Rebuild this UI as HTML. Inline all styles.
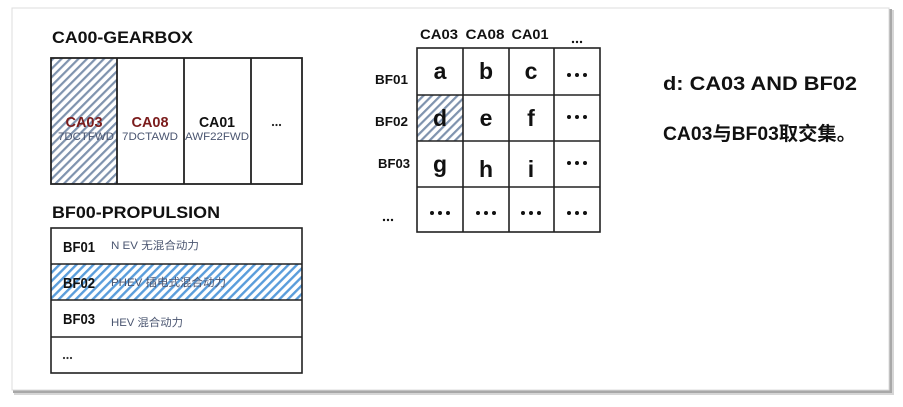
<!DOCTYPE html>
<html>
<head>
<meta charset="utf-8">
<style>
  html,body{margin:0;padding:0;background:#fff;}
  body{width:903px;height:407px;overflow:hidden;}
  svg{display:block;}
  text{font-family:"Liberation Sans","Noto Sans CJK SC",sans-serif;}
</style>
</head>
<body>
<svg width="903" height="407" viewBox="0 0 903 407" xmlns="http://www.w3.org/2000/svg">
  <defs>
    <pattern id="hg" patternUnits="userSpaceOnUse" width="6" height="6" patternTransform="rotate(45)">
      <rect width="6" height="6" fill="#fff"/>
      <rect width="2.2" height="6" fill="#7f93ae"/>
    </pattern>
    <pattern id="hb" patternUnits="userSpaceOnUse" width="6" height="6" patternTransform="rotate(45)">
      <rect width="6" height="6" fill="#fff"/>
      <rect width="2.4" height="6" fill="#5a9ddb"/>
    </pattern>
  </defs>

  <!-- card shadow -->
  <rect x="14" y="10" width="880" height="385" fill="#d6d6d6"/>
  <rect x="13" y="9" width="879" height="384" fill="#a8a8a8"/>
  <rect x="12" y="8" width="877" height="382" fill="#fff" stroke="#dcdcdc" stroke-width="1"/>

  <!-- GEARBOX -->
  <text x="52" y="43" font-size="17" font-weight="bold" fill="#111" textLength="141" lengthAdjust="spacingAndGlyphs">CA00-GEARBOX</text>
  <rect x="51" y="58" width="66" height="126" fill="url(#hg)"/>
  <rect x="51" y="58" width="251" height="126" fill="none" stroke="#222" stroke-width="1.8"/>
  <line x1="117" y1="58" x2="117" y2="184" stroke="#222" stroke-width="1.8"/>
  <line x1="184" y1="58" x2="184" y2="184" stroke="#222" stroke-width="1.8"/>
  <line x1="251" y1="58" x2="251" y2="184" stroke="#222" stroke-width="1.8"/>

  <g font-weight="bold" font-size="15" text-anchor="middle">
    <text x="84" y="127" fill="#7b1c1c" textLength="37" lengthAdjust="spacingAndGlyphs">CA03</text>
    <text x="150" y="127" fill="#7b1c1c" textLength="37" lengthAdjust="spacingAndGlyphs">CA08</text>
    <text x="217" y="127" fill="#111" textLength="36" lengthAdjust="spacingAndGlyphs">CA01</text>
  </g>
  <g fill="#222">
    <circle cx="273" cy="125" r="1.1"/><circle cx="276.5" cy="125" r="1.1"/><circle cx="280" cy="125" r="1.1"/>
  </g>
  <g font-size="11" text-anchor="middle" fill="#4a5570">
    <text x="86" y="140" textLength="56" lengthAdjust="spacingAndGlyphs">7DCTFWD</text>
    <text x="150" y="140" textLength="56" lengthAdjust="spacingAndGlyphs">7DCTAWD</text>
    <text x="217" y="140" textLength="64" lengthAdjust="spacingAndGlyphs">AWF22FWD</text>
  </g>

  <!-- PROPULSION -->
  <text x="52" y="218" font-size="17" font-weight="bold" fill="#111" textLength="168" lengthAdjust="spacingAndGlyphs">BF00-PROPULSION</text>
  <rect x="51" y="264" width="251" height="36" fill="url(#hb)"/>
  <rect x="51" y="228" width="251" height="145" fill="none" stroke="#222" stroke-width="1.6"/>
  <line x1="51" y1="264" x2="302" y2="264" stroke="#222" stroke-width="1.6"/>
  <line x1="51" y1="300" x2="302" y2="300" stroke="#222" stroke-width="1.6"/>
  <line x1="51" y1="337" x2="302" y2="337" stroke="#222" stroke-width="1.6"/>

  <g font-weight="bold" font-size="15" fill="#111">
    <text x="63" y="252" textLength="32" lengthAdjust="spacingAndGlyphs">BF01</text>
    <text x="63" y="288" textLength="32" lengthAdjust="spacingAndGlyphs">BF02</text>
    <text x="63" y="324" textLength="32" lengthAdjust="spacingAndGlyphs">BF03</text>
  </g>
  <g fill="#333">
    <circle cx="64" cy="358" r="1.1"/><circle cx="67.5" cy="358" r="1.1"/><circle cx="71" cy="358" r="1.1"/>
  </g>
  <g font-size="11" fill="#4a5570">
    <text x="111" y="249" textLength="88" lengthAdjust="spacingAndGlyphs">N EV 无混合动力</text>
    <text x="111" y="286" textLength="115" lengthAdjust="spacingAndGlyphs">PHEV 插电式混合动力</text>
    <text x="111" y="326" textLength="72" lengthAdjust="spacingAndGlyphs">HEV 混合动力</text>
  </g>

  <!-- MATRIX -->
  <g font-weight="bold" font-size="14" fill="#111" text-anchor="middle">
    <text x="439" y="39" textLength="38" lengthAdjust="spacingAndGlyphs">CA03</text>
    <text x="485" y="39" textLength="39" lengthAdjust="spacingAndGlyphs">CA08</text>
    <text x="530" y="39" textLength="37" lengthAdjust="spacingAndGlyphs">CA01</text>
  </g>
  <g fill="#111">
    <circle cx="573" cy="42" r="1.2"/><circle cx="577" cy="42" r="1.2"/><circle cx="581" cy="42" r="1.2"/>
    <circle cx="384" cy="220" r="1.2"/><circle cx="388" cy="220" r="1.2"/><circle cx="392" cy="220" r="1.2"/>
  </g>
  <g font-weight="bold" font-size="13" fill="#111">
    <text x="375" y="84" textLength="33" lengthAdjust="spacingAndGlyphs">BF01</text>
    <text x="375" y="126" textLength="33" lengthAdjust="spacingAndGlyphs">BF02</text>
    <text x="378" y="168" textLength="32" lengthAdjust="spacingAndGlyphs">BF03</text>
  </g>

  <rect x="417" y="95" width="46" height="46" fill="url(#hg)"/>
  <rect x="417" y="48" width="183" height="184" fill="none" stroke="#222" stroke-width="1.6"/>
  <line x1="463" y1="48" x2="463" y2="232" stroke="#222" stroke-width="1.6"/>
  <line x1="509" y1="48" x2="509" y2="232" stroke="#222" stroke-width="1.6"/>
  <line x1="554" y1="48" x2="554" y2="232" stroke="#222" stroke-width="1.6"/>
  <line x1="417" y1="95" x2="600" y2="95" stroke="#222" stroke-width="1.6"/>
  <line x1="417" y1="141" x2="600" y2="141" stroke="#222" stroke-width="1.6"/>
  <line x1="417" y1="187" x2="600" y2="187" stroke="#222" stroke-width="1.6"/>

  <g font-weight="bold" font-size="23" fill="#111" text-anchor="middle">
    <text x="440" y="79">a</text>
    <text x="486" y="79">b</text>
    <text x="531" y="79">c</text>
    <text x="440" y="126">d</text>
    <text x="486" y="126">e</text>
    <text x="531" y="126">f</text>
    <text x="440" y="172">g</text>
    <text x="486" y="177">h</text>
    <text x="531" y="177">i</text>
  </g>
  <g fill="#111">
    <circle cx="569" cy="75" r="2"/><circle cx="577" cy="75" r="2"/><circle cx="585" cy="75" r="2"/>
    <circle cx="569" cy="117" r="2"/><circle cx="577" cy="117" r="2"/><circle cx="585" cy="117" r="2"/>
    <circle cx="569" cy="163" r="2"/><circle cx="577" cy="163" r="2"/><circle cx="585" cy="163" r="2"/>
    <circle cx="569" cy="213" r="2"/><circle cx="577" cy="213" r="2"/><circle cx="585" cy="213" r="2"/>
    <circle cx="432" cy="213" r="2"/><circle cx="440" cy="213" r="2"/><circle cx="448" cy="213" r="2"/>
    <circle cx="478" cy="213" r="2"/><circle cx="486" cy="213" r="2"/><circle cx="494" cy="213" r="2"/>
    <circle cx="523" cy="213" r="2"/><circle cx="531" cy="213" r="2"/><circle cx="539" cy="213" r="2"/>
  </g>

  <!-- right text -->
  <g font-weight="bold" font-size="19" fill="#111">
    <text x="663" y="90" textLength="194" lengthAdjust="spacingAndGlyphs">d:  CA03 AND BF02</text>
    <text x="663" y="140" textLength="193" lengthAdjust="spacingAndGlyphs">CA03与BF03取交集。</text>
  </g>
</svg>
</body>
</html>
